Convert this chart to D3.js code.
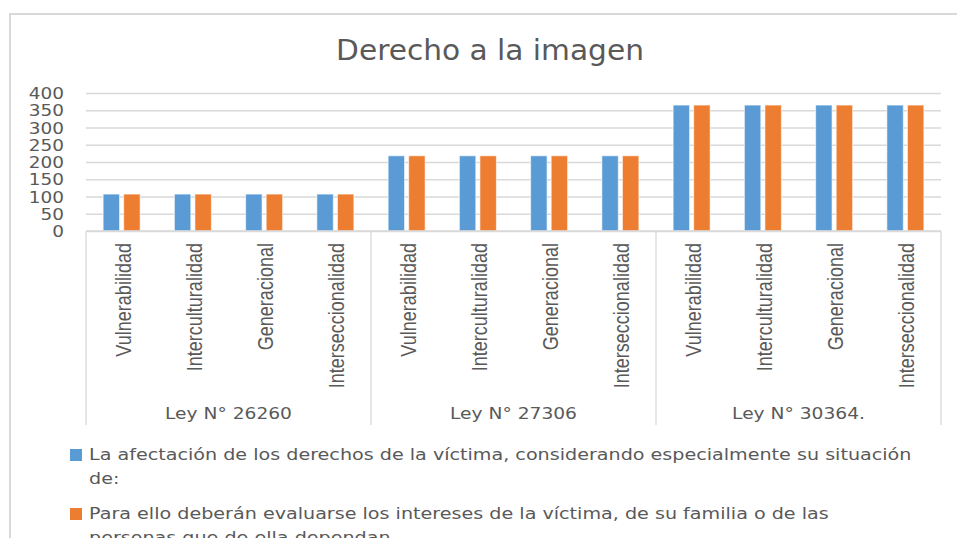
<!DOCTYPE html>
<html><head><meta charset="utf-8">
<script src="https://cdn.jsdelivr.net/npm/d3@7"></script>
<style>body{margin:0;background:#fff}svg{display:block}</style>
</head><body>
<svg id="c" width="957" height="538"></svg>
<script>
const title = "Derecho a la imagen";
const groups = ["Ley N° 26260", "Ley N° 27306", "Ley N° 30364."];
const subcats = ["Vulnerabilidad", "Interculturalidad", "Generacional", "Interseccionalidad"];
const seriesNames = [
  ["La afectación de los derechos de la víctima, considerando especialmente su situación", "de:"],
  ["Para ello deberán evaluarse los intereses de la víctima, de su familia o de las", "personas que de ella dependan."]
];
const seriesA = [107,107,107,107, 218,218,218,218, 365,365,365,365];
const seriesB = [107,107,107,107, 218,218,218,218, 365,365,365,365];
const yTicks = [0,50,100,150,200,250,300,350,400];
const colors = ["#5b9bd5", "#ed7d31"];

const svg = d3.select("#c");
const grid = "#d9d9d9", txt = "#595959";
const L = 86, R = 941, T = 93, B = 231;

function stext(parent, x, yy, sx, str, size, anchor, family) {
  return parent.append("g").attr("transform", `translate(${x},${yy}) scale(${sx},1)`)
    .append("text").attr("text-anchor", anchor || "start")
    .attr("font-family", family || "DejaVu Sans").attr("font-size", size)
    .attr("fill", txt).text(str);
}

svg.append("rect").attr("x",10).attr("y",14).attr("width",980).attr("height",560)
  .attr("fill","#fff").attr("stroke",grid).attr("stroke-width",2);

stext(svg, 490, 60, 1.04, title, 28.5, "middle");

const cats = d3.range(seriesA.length);
const x0 = d3.scaleBand().domain(cats).range([L,R]);
const bw = x0.bandwidth();
const x1 = d3.scaleBand().domain([0,1]).range([bw/2-18.5, bw/2+18.5]).paddingInner(0.2);
const y = d3.scaleLinear().domain([0,400]).range([B,T]);

// gridlines
const yAxis = d3.axisLeft(y).tickValues(yTicks).tickSize(-(R-L)).tickFormat("");
const ga = svg.append("g").attr("transform",`translate(${L},0)`).call(yAxis);
ga.select(".domain").remove();
ga.selectAll(".tick line").attr("stroke",grid).attr("stroke-width",1.3);
ga.selectAll(".tick text").remove();
yTicks.forEach(v => {
  stext(svg, 64, y(v) + 6, 1.12, String(v), 16.5, "end");
});

// bars
const data = cats.map(i => [seriesA[i], seriesB[i]]);
const cg = svg.append("g").selectAll("g").data(data).join("g")
  .attr("transform",(d,i)=>`translate(${x0(i)},0)`);
cg.selectAll("rect").data(d=>d).join("rect")
  .attr("x",(d,j)=>x1(j)).attr("width",x1.bandwidth())
  .attr("y",d=>y(d)).attr("height",d=>y(0)-y(d))
  .attr("fill",(d,j)=>colors[j]).attr("stroke","#fff").attr("stroke-opacity",0.6).attr("stroke-width",1);

// baseline and group separators
svg.append("line").attr("x1",L).attr("x2",R).attr("y1",B).attr("y2",B).attr("stroke",grid).attr("stroke-width",1.3);
const gw = (R-L)/groups.length;
d3.range(groups.length+1).forEach(k=>{
  const xx = L + k*gw;
  svg.append("line").attr("x1",xx).attr("x2",xx).attr("y1",B).attr("y2",425).attr("stroke",grid).attr("stroke-width",1.3);
});

// rotated category labels
cats.forEach(i=>{
  const cx = x0(i)+bw/2;
  svg.append("g").attr("transform",`translate(${cx},243) rotate(-90)`)
    .append("text").attr("transform","scale(0.82,1)").attr("x",0).attr("y",9)
    .attr("text-anchor","end").attr("font-family","Liberation Sans").attr("font-size",22)
    .attr("fill",txt).text(subcats[i % subcats.length]);
});

// group labels
groups.forEach((g,k)=>{
  stext(svg, L+k*gw+gw/2, 419, 1.13, g, 16.5, "middle");
});

// legend
const legY = [449, 508];
seriesNames.forEach((lines,k)=>{
  svg.append("rect").attr("x",70).attr("y",legY[k]).attr("width",12).attr("height",12).attr("fill",colors[k]);
  lines.forEach((ln,j)=>{
    stext(svg, 89, legY[k]+10.5+j*24, 1.235, ln, 15.5, "start");
  });
});
</script>
</body></html>
